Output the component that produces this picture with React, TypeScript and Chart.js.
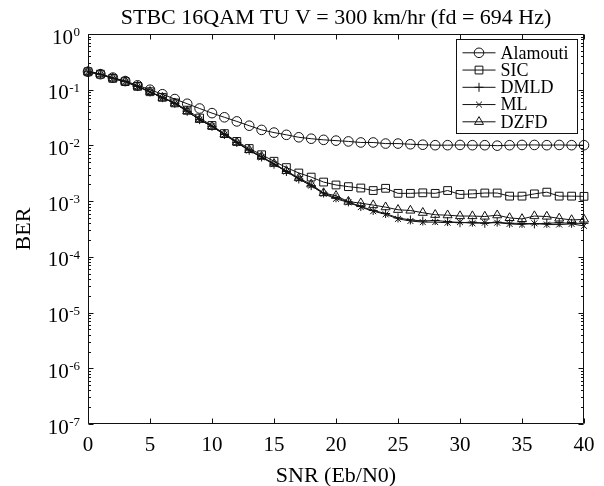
import React, { useEffect, useRef } from 'react';
import { Chart, registerables } from 'chart.js';
import { drawPoint } from 'chart.js/helpers';

Chart.register(...registerables);

const FONT = '"Liberation Serif", "Times New Roman", serif';

const titleText = 'STBC 16QAM TU V = 300 km/hr (fd = 694 Hz)';
const xTitle = 'SNR (Eb/N0)';
const yTitle = 'BER';

const snr = [0, 1, 2, 3, 4, 5, 6, 7, 8, 9, 10, 11, 12, 13, 14, 15, 16, 17, 18, 19, 20,
  21, 22, 23, 24, 25, 26, 27, 28, 29, 30, 31, 32, 33, 34, 35, 36, 37, 38, 39, 40];

const alamouti = [0.21, 0.19, 0.165, 0.143, 0.12, 0.1, 0.083, 0.068, 0.056, 0.046, 0.038,
  0.032, 0.027, 0.0226, 0.019, 0.017, 0.0155, 0.014, 0.0132, 0.0126, 0.0122,
  0.0118, 0.0113, 0.0113, 0.0108, 0.0108, 0.0105, 0.0103, 0.0101, 0.0101, 0.0102,
  0.0101, 0.0101, 0.0099, 0.0101, 0.0102, 0.0102, 0.0101, 0.0102, 0.0101, 0.0101];

const sic = [0.21, 0.19, 0.16, 0.14, 0.115, 0.092, 0.073, 0.058, 0.043, 0.031, 0.0228,
  0.0163, 0.0118, 0.0088, 0.0068, 0.0052, 0.004, 0.0032, 0.0027, 0.0022, 0.00195,
  0.00182, 0.00172, 0.00155, 0.0017, 0.00138, 0.00138, 0.00141, 0.00138, 0.00155, 0.00132,
  0.00135, 0.0014, 0.0014, 0.00123, 0.00123, 0.00135, 0.00145, 0.00123, 0.00123, 0.00122];

const dmld = [0.21, 0.19, 0.16, 0.14, 0.114, 0.091, 0.072, 0.057, 0.041, 0.029, 0.022,
  0.0157, 0.0113, 0.0082, 0.0062, 0.0046, 0.0034, 0.0025, 0.0019, 0.0014, 0.00115,
  0.00097, 0.0008, 0.00068, 0.0006, 0.0005, 0.00046, 0.00044, 0.00045, 0.00043, 0.00041,
  0.00042, 0.0004, 0.00042, 0.0004, 0.0004, 0.00039, 0.0004, 0.00041, 0.0004, 0.0004];

const ml = [0.21, 0.19, 0.16, 0.14, 0.114, 0.091, 0.072, 0.057, 0.041, 0.029, 0.022,
  0.0156, 0.0112, 0.0081, 0.0061, 0.0046, 0.0034, 0.0025, 0.0019, 0.00135, 0.0011,
  0.00095, 0.00078, 0.00066, 0.00058, 0.00048, 0.00044, 0.00042, 0.00042, 0.00041, 0.00042,
  0.0004, 0.00041, 0.00041, 0.00039, 0.00038, 0.0004, 0.00038, 0.00038, 0.00039, 0.00036];

const dzfd = [0.21, 0.19, 0.16, 0.14, 0.115, 0.092, 0.072, 0.057, 0.041, 0.029, 0.022,
  0.0158, 0.0114, 0.0083, 0.0063, 0.0047, 0.0035, 0.0026, 0.002, 0.0014, 0.00125,
  0.00098, 0.00092, 0.00085, 0.00078, 0.0007, 0.00068, 0.00062, 0.00057, 0.00056, 0.00054,
  0.00054, 0.00053, 0.00056, 0.0005, 0.00048, 0.00054, 0.00053, 0.00049, 0.00046, 0.00047];

const seriesNames = ['Alamouti', 'SIC', 'DMLD', 'ML', 'DZFD'];
const seriesValues = [alamouti, sic, dmld, ml, dzfd];
const pointStyles = ['circle', 'rect', 'cross', 'crossRot', 'triangle'];
const pointRadii = [4.8, 5.5, 4.5, 4.2, 5.2];

const xTickValues = [0, 5, 10, 15, 20, 25, 30, 35, 40];
const yExponents = [0, -1, -2, -3, -4, -5, -6, -7];

const INK = '#111';

const framePlugin = {
  id: 'matlabFrame',
  afterDraw(chart: any) {
    const { ctx, chartArea, scales } = chart;
    const { left, right, top, bottom } = chartArea;
    const xs = scales.x;
    const ys = scales.y;
    ctx.save();
    ctx.strokeStyle = INK;
    ctx.lineWidth = 1;
    const L = Math.round(left) + 0.5;
    const R = Math.round(right) - 0.5;
    const T = Math.round(top) + 0.5;
    const B = Math.round(bottom) - 0.5;
    ctx.beginPath();
    ctx.rect(L, T, R - L, B - T);
    ctx.stroke();

    ctx.beginPath();
    for (const v of xTickValues) {
      const px = Math.round(xs.getPixelForValue(v)) + 0.5;
      ctx.moveTo(px, B);
      ctx.lineTo(px, B - 5);
      ctx.moveTo(px, T);
      ctx.lineTo(px, T + 5);
    }
    for (const e of yExponents) {
      const py = Math.round(ys.getPixelForValue(Math.pow(10, e))) + 0.5;
      ctx.moveTo(L, py);
      ctx.lineTo(L + 5, py);
      ctx.moveTo(R, py);
      ctx.lineTo(R - 5, py);
      if (e > -7) {
        for (let k = 2; k <= 9; k++) {
          const pm = Math.round(ys.getPixelForValue(k * Math.pow(10, e - 1))) + 0.5;
          ctx.moveTo(L, pm);
          ctx.lineTo(L + 2.5, pm);
          ctx.moveTo(R, pm);
          ctx.lineTo(R - 2.5, pm);
        }
      }
    }
    ctx.stroke();

    // y tick labels with superscript exponents
    ctx.fillStyle = '#000';
    ctx.textBaseline = 'alphabetic';
    for (const e of yExponents) {
      const py = ys.getPixelForValue(Math.pow(10, e));
      const base = py + 9.5;
      const expText = String(e);
      ctx.font = '13px ' + FONT;
      const ew = ctx.measureText(expText).width;
      const rightEdge = left - 8;
      ctx.textAlign = 'left';
      ctx.fillText(expText, rightEdge - ew, base - 7.5);
      ctx.font = '21px ' + FONT;
      ctx.textAlign = 'right';
      ctx.fillText('10', rightEdge - ew - 0.5, base);
    }

    // legend
    const bx = 456.5, by = 39.5, bw = 121, bh = 94;
    ctx.fillStyle = '#fff';
    ctx.fillRect(bx, by, bw, bh);
    ctx.strokeStyle = INK;
    ctx.lineWidth = 1;
    ctx.strokeRect(bx, by, bw, bh);
    ctx.font = '18px ' + FONT;
    ctx.textAlign = 'left';
    ctx.textBaseline = 'middle';
    chart.data.datasets.forEach((ds: any, i: number) => {
      const cy = 52.8 + i * 17.25;
      ctx.strokeStyle = INK;
      ctx.lineWidth = 1;
      ctx.beginPath();
      ctx.moveTo(462.5, cy);
      ctx.lineTo(495.5, cy);
      ctx.stroke();
      ctx.fillStyle = 'rgba(0,0,0,0)';
      drawPoint(ctx, { pointStyle: ds.pointStyle, radius: ds.pointRadius, rotation: 0, borderWidth: 1 }, 479, cy);
      ctx.fillStyle = '#000';
      ctx.fillText(ds.label, 500.5, cy + 1);
    });
    ctx.restore();
  },
};

export default function App() {
  const canvasRef = useRef<HTMLCanvasElement | null>(null);

  useEffect(() => {
    if (!canvasRef.current) return;
    const datasets = seriesNames.map((name, i) => ({
      label: name,
      data: snr.map((x, j) => ({ x, y: seriesValues[i][j] })),
      borderColor: INK,
      borderWidth: 1,
      backgroundColor: 'rgba(0,0,0,0)',
      pointStyle: pointStyles[i],
      pointRadius: pointRadii[i],
      pointBorderWidth: 1,
      pointBorderColor: INK,
      pointBackgroundColor: 'rgba(0,0,0,0)',
      tension: 0,
      fill: false,
      clip: false,
    }));

    const chart = new Chart(canvasRef.current, {
      type: 'line',
      data: { datasets } as any,
      options: {
        animation: false,
        responsive: false,
        devicePixelRatio: 1,
        layout: { padding: { left: 0, right: 20, top: 0, bottom: 0 } },
        plugins: {
          legend: { display: false },
          tooltip: { enabled: false },
          title: {
            display: true,
            text: titleText,
            color: '#000',
            font: { family: FONT, size: 22, weight: 'normal' },
            padding: { top: 5, bottom: 2.6 },
            fullSize: false,
          } as any,
        },
        scales: {
          x: {
            type: 'linear',
            min: 0,
            max: 40,
            ticks: {
              stepSize: 5,
              autoSkip: false,
              maxRotation: 0,
              color: '#000',
              padding: 8.9,
              font: { family: FONT, size: 21 },
            },
            grid: { display: false, drawTicks: false },
            border: { display: false },
            title: {
              display: true,
              text: xTitle,
              color: '#000',
              font: { family: FONT, size: 22, lineHeight: 0.8 },
              padding: { top: 0, bottom: 1.2 },
            },
            afterFit: (s: any) => { s.height = 62; },
          },
          y: {
            type: 'logarithmic',
            min: 1e-7,
            max: 1,
            ticks: { display: false },
            grid: { display: false, drawTicks: false },
            border: { display: false },
            title: {
              display: true,
              text: yTitle,
              color: '#000',
              font: { family: FONT, size: 22 },
              padding: { top: 10.8, bottom: 0 },
            },
            afterFit: (s: any) => { s.width = 88; },
          },
        },
      } as any,
      plugins: [framePlugin],
    });
    return () => chart.destroy();
  }, []);

  return (
    <div style={{ position: 'fixed', left: 0, top: 0, width: 604, height: 486, background: '#fff' }}>
      <canvas ref={canvasRef} width={604} height={486} style={{ display: 'block' }} />
    </div>
  );
}
